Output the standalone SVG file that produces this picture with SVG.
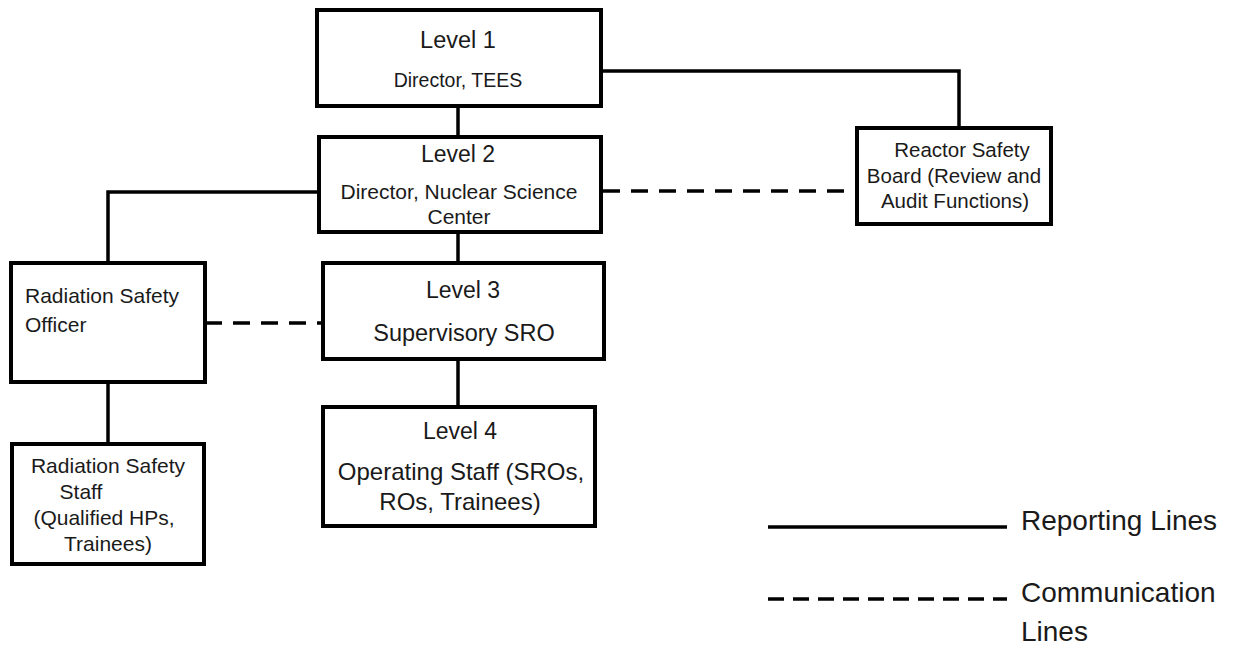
<svg xmlns="http://www.w3.org/2000/svg" width="1236" height="646" viewBox="0 0 1236 646">
<style>
.box{fill:#fff;stroke:#000;stroke-width:4}
.t{font-family:"Liberation Sans",Arial,sans-serif;fill:#1a1a1a}
.c{text-anchor:middle}
.solid{fill:none;stroke:#000;stroke-width:3.5}
.dash{fill:none;stroke:#000;stroke-width:3.5;stroke-dasharray:17 11}
</style>
<rect width="1236" height="646" fill="#fff"/>
<g id="connectors">
<path class="solid" d="M458,106 V137"/>
<path class="solid" d="M601,71 H959 V128"/>
<path class="solid" d="M319,192 H108 V263"/>
<path class="solid" d="M458,232 V263"/>
<path class="solid" d="M458,359 V407"/>
<path class="solid" d="M108,382 V444"/>
<path class="dash" d="M603,191 H850"/>
<path class="dash" d="M205,323 H323"/>
</g>
<g id="level1">
<rect class="box" x="317" y="10" width="284" height="96"/>
<text class="t c" x="458" y="48" font-size="23.5">Level 1</text>
<text class="t c" x="458" y="87" font-size="19.5">Director, TEES</text>
</g>
<g id="level2">
<rect class="box" x="319" y="137" width="282" height="95"/>
<text class="t c" x="458" y="162" font-size="23">Level 2</text>
<text class="t c" x="459" y="199" font-size="21">Director, Nuclear Science</text>
<text class="t c" x="459" y="224" font-size="21">Center</text>
</g>
<g id="rsb">
<rect class="box" x="857" y="128" width="194" height="96"/>
<text class="t c" x="962" y="157" font-size="20.5">Reactor Safety</text>
<text class="t c" x="954" y="183" font-size="20.5">Board (Review and</text>
<text class="t c" x="955" y="208" font-size="20.5">Audit Functions)</text>
</g>
<g id="rso">
<rect class="box" x="11" y="263" width="194" height="119"/>
<text class="t" x="25" y="303" font-size="21">Radiation Safety</text>
<text class="t" x="25" y="332" font-size="21">Officer</text>
</g>
<g id="level3">
<rect class="box" x="323" y="263" width="281" height="96"/>
<text class="t c" x="463" y="298" font-size="23">Level 3</text>
<text class="t c" x="464" y="341" font-size="23.5">Supervisory SRO</text>
</g>
<g id="level4">
<rect class="box" x="323" y="407" width="272" height="119"/>
<text class="t c" x="460" y="439" font-size="23">Level 4</text>
<text class="t c" x="461" y="480" font-size="24">Operating Staff (SROs,</text>
<text class="t c" x="460" y="510" font-size="24">ROs, Trainees)</text>
</g>
<g id="rss">
<rect class="box" x="12" y="444" width="192" height="120"/>
<text class="t c" x="108" y="473" font-size="21">Radiation Safety</text>
<text class="t c" x="81" y="499" font-size="21">Staff</text>
<text class="t c" x="104" y="525" font-size="21">(Qualified HPs,</text>
<text class="t c" x="108" y="551" font-size="21">Trainees)</text>
</g>
<g id="legend">
<path class="solid" d="M768,527 H1007"/>
<path fill="none" stroke="#000" stroke-width="3.5" stroke-dasharray="16 9" d="M768,599 H1007"/>
<text class="t" x="1021" y="530" font-size="28">Reporting Lines</text>
<text class="t" x="1021" y="602" font-size="28">Communication</text>
<text class="t" x="1021" y="641" font-size="28">Lines</text>
</g>
</svg>
